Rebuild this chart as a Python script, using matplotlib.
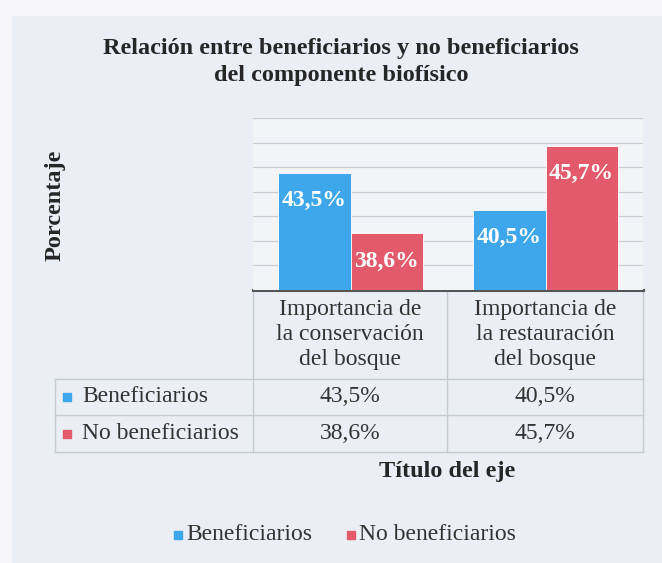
# Beneficiarios vs no beneficiarios, componente biofisico (Excel-style bar chart + data table)

import numpy as np
from matplotlib import pyplot as plt
from matplotlib.patches import Rectangle

plt.rcParams['font.family'] = ['Liberation Serif', 'DejaVu Serif']

categories = ['Importancia de\nla conservación\ndel bosque',
              'Importancia de\nla restauración\ndel bosque']
series = ['Beneficiarios', 'No beneficiarios']
benef = [43.5, 40.5]
no_benef = [38.6, 45.7]
colors = ['#3ea6ea', '#e25a6c']

W, H = 662, 563
fig = plt.figure(figsize=(W/100, H/100), dpi=100)
fig.patch.set_facecolor('#f6f6f8')

# overlay in pixel coords for the background, table and texts
ov = fig.add_axes([0, 0, 1, 1])
ov.set_xlim(0, W)
ov.set_ylim(H, 0)
ov.axis('off')
ov.add_patch(Rectangle((12, 16), W, H, color='#eceef5', zorder=0))

def fmt(v):
    return ('%.1f%%' % v).replace('.', ',')

# plot area
x0, x1, ytop, ybase = 253, 643, 118, 290
ax = fig.add_axes([x0/W, 1 - ybase/H, (x1 - x0)/W, (ybase - ytop)/H])
ax.set_facecolor('#f3f4f8')
ax.set_xlim(0, 2)
ax.set_ylim(34, 48)
ax.set_yticks(np.arange(36, 50, 2))
ax.yaxis.grid(True, color='#cbcdd3', linewidth=0.9)
ax.set_axisbelow(True)
ax.tick_params(left=False, bottom=False, labelleft=False, labelbottom=False)
for s in ax.spines.values():
    s.set_visible(False)

x = np.arange(2) + 0.5
bw = 0.37
vals = [benef, no_benef]
fs = 17
for i, v in enumerate(vals):
    xs = x + (i - 0.5) * bw
    ax.bar(xs, np.array(v) - 34, bw, bottom=34, color=colors[i],
           edgecolor='white', linewidth=0.6)
    for xi, vi in zip(xs, v):
        ax.text(xi, vi - 2.25, fmt(vi), ha='center', va='center', color='white',
                fontsize=17, fontweight='bold')

# axis line / table top
ov.plot([x0, x1], [ybase, ybase], color='#555555', lw=2.2, zorder=3)

# table grid
gc = '#c6cad6'
rows_y = [379, 415, 452]
colx = [253, 447, 643]
for cx in colx:
    ov.plot([cx, cx], [ybase, 452], color=gc, lw=1)
ov.plot([55, 55], [379, 452], color=gc, lw=1)
for ry in rows_y:
    ov.plot([55, x1], [ry, ry], color=gc, lw=1)

for j, cat in enumerate(categories):
    cxm = (colx[j] + colx[j+1]) / 2
    ov.text(cxm, 335, cat, ha='center', va='center', fontsize=fs,
            color='#333333', linespacing=1.25)

for i, name in enumerate(series):
    yc = (rows_y[i] + rows_y[i+1]) / 2
    ov.add_patch(Rectangle((63, yc - 4), 8, 8, color=colors[i]))
    ov.text(82, yc, name, ha='left', va='center', fontsize=fs, color='#333333')
    for j in range(2):
        cxm = (colx[j] + colx[j+1]) / 2
        ov.text(cxm, yc, fmt(vals[i][j]), ha='center', va='center',
                fontsize=fs, color='#333333')

# titles
ov.text(341, 62, 'Relación entre beneficiarios y no beneficiarios\ndel componente biofísico',
        ha='center', va='center', fontsize=17.5, fontweight='bold',
        color='#262626', linespacing=1.32)
ov.text(55, 205, 'Porcentaje', rotation=90, ha='center', va='center',
        fontsize=17.5, fontweight='bold', color='#262626')
ov.text(447, 471, 'Título del eje', ha='center', va='center',
        fontsize=17.5, fontweight='bold', color='#262626')

# legend
lx = [174, 347]
for i, name in enumerate(series):
    ov.add_patch(Rectangle((lx[i], 531), 8, 8, color=colors[i]))
    ov.text(lx[i] + 12, 535, name, ha='left', va='center', fontsize=fs,
            color='#333333')

plt.savefig('out.png', dpi=100, facecolor=fig.get_facecolor())
